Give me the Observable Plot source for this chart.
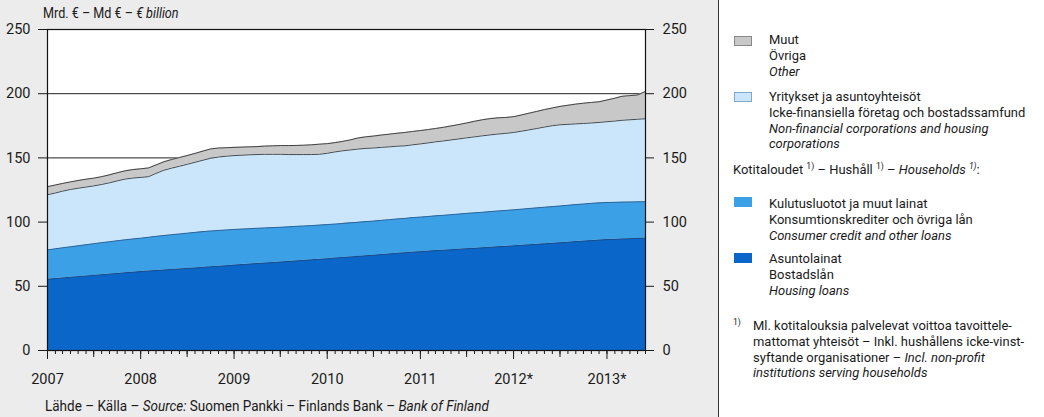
<!DOCTYPE html>
<html><head><meta charset="utf-8">
<script src="https://cdn.jsdelivr.net/npm/d3@7"></script>
<script src="https://cdn.jsdelivr.net/npm/@observablehq/plot@0.6"></script>
<style>
html,body{margin:0;padding:0;}
body{width:1044px;height:417px;overflow:hidden;background:#ececec;font-family:Roboto,"Liberation Sans",sans-serif;color:#1a1a1a;position:relative;}
#chart{position:absolute;left:0;top:0;}
#unit{position:absolute;left:43px;top:5px;font-size:14px;white-space:nowrap;transform:scaleX(0.9);transform-origin:0 0;}
#source{position:absolute;left:45px;top:397px;font-size:15px;white-space:nowrap;transform:scaleX(0.9);transform-origin:0 0;}
#legend{position:absolute;left:718px;top:0;width:326px;height:417px;background:#fff;border-left:1.5px solid #333;}
.blk{position:absolute;left:50px;font-size:13.5px;line-height:15.8px;white-space:nowrap;transform:scaleX(0.96);transform-origin:0 0;}
.sw{position:absolute;left:15px;width:18px;height:10px;box-sizing:border-box;}
.hd{position:absolute;left:14px;font-size:13.5px;line-height:15.8px;white-space:nowrap;transform:scaleX(0.96);transform-origin:0 0;}
i{font-style:italic;}
sup{font-size:9px;vertical-align:5px;line-height:0;}
</style>
</head><body>
<div id="chart"></div>
<div id="unit">Mrd. € – Md € – <i>€ billion</i></div>
<div id="source">Lähde – Källa – <i>Source:</i> Suomen Pankki – Finlands Bank – <i>Bank of Finland</i></div>
<div id="legend">
  <div class="sw" style="top:36px;background:#c8c8c8;border:1px solid #888;"></div>
  <div class="blk" style="top:32px;">Muut<br>Övriga<br><i>Other</i></div>
  <div class="sw" style="top:92px;background:#cbe6fa;border:1px solid #7fa9c8;"></div>
  <div class="blk" style="top:89px;">Yritykset ja asuntoyhteisöt<br>Icke-finansiella företag och bostadssamfund<br><i>Non-financial corporations and housing<br>corporations</i></div>
  <div class="hd" style="top:162px;">Kotitaloudet <sup>1)</sup> – Hushåll <sup>1)</sup> – <i>Households <sup>1)</sup></i>:</div>
  <div class="sw" style="top:197px;background:#3ba0e6;"></div>
  <div class="blk" style="top:196px;">Kulutusluotot ja muut lainat<br>Konsumtionskrediter och övriga lån<br><i>Consumer credit and other loans</i></div>
  <div class="sw" style="top:253px;background:#0a66c8;"></div>
  <div class="blk" style="top:251px;">Asuntolainat<br>Bostadslån<br><i>Housing loans</i></div>
  <div class="hd" style="top:318px;"><sup>1)</sup></div>
  <div class="blk" style="top:318px;left:34px;">Ml. kotitalouksia palvelevat voittoa tavoittele-<br>mattomat yhteisöt – Inkl. hushållens icke-vinst-<br>syftande organisationer – <i>Incl. non-profit<br>institutions serving households</i></div>
</div>
<script>
// Monthly data, Jan 2007 – Jun 2013, € billion
const seriesNames = ["Asuntolainat", "Kulutusluotot", "Yritykset", "Muut"];
const housing = [
  55.5, 56.0, 56.5, 57.0, 57.5, 58.0, 58.5, 59.0, 59.5, 60.0, 60.5, 61.0,
  61.5, 61.9, 62.3, 62.7, 63.1, 63.5, 63.9, 64.3, 64.8, 65.2, 65.6, 66.0,
  66.5, 66.9, 67.3, 67.7, 68.1, 68.5, 68.9, 69.3, 69.8, 70.2, 70.6, 71.0,
  71.5, 72.0, 72.4, 72.9, 73.3, 73.8, 74.2, 74.7, 75.2, 75.7, 76.1, 76.6,
  77.0, 77.4, 77.8, 78.1, 78.5, 78.9, 79.3, 79.6, 80.0, 80.4, 80.8, 81.1,
  81.5, 81.9, 82.3, 82.7, 83.1, 83.5, 83.9, 84.3, 84.8, 85.2, 85.6, 86.0,
  86.4, 86.6, 86.9, 87.1, 87.3, 87.5
];
const consumer = [
  22.9, 23.2, 23.5, 23.8, 24.1, 24.4, 24.7, 25.0, 25.2, 25.5, 25.7, 25.9,
  26.0, 26.3, 26.6, 26.9, 27.1, 27.3, 27.5, 27.7, 27.8, 27.9, 27.9, 27.9,
  27.8, 27.7, 27.6, 27.5, 27.4, 27.2, 27.1, 27.0, 26.9, 26.8, 26.7, 26.7,
  26.6, 26.5, 26.5, 26.5, 26.5, 26.6, 26.6, 26.7, 26.7, 26.8, 26.8, 26.9,
  26.9, 27.0, 27.1, 27.2, 27.3, 27.4, 27.5, 27.6, 27.7, 27.8, 27.9, 28.0,
  28.1, 28.2, 28.3, 28.4, 28.5, 28.6, 28.7, 28.8, 28.9, 28.9, 29.0, 29.0,
  28.9, 28.8, 28.7, 28.6, 28.5, 28.4
];
const corporations = [
  42.9, 43.5, 44.1, 44.6, 44.8, 44.9, 45.0, 45.3, 45.9, 46.6, 47.3, 47.4,
  47.3, 47.2, 49.0, 50.8, 51.8, 52.7, 53.6, 54.6, 55.6, 56.6, 57.2, 57.4,
  57.5, 57.5, 57.5, 57.4, 57.3, 57.1, 56.8, 56.3, 55.9, 55.6, 55.3, 55.1,
  55.5, 56.2, 56.6, 56.8, 57.1, 57.0, 56.9, 56.8, 56.7, 56.6, 56.5, 56.7,
  57.0, 57.3, 57.6, 57.9, 58.2, 58.5, 58.8, 59.2, 59.5, 59.7, 59.9, 60.0,
  60.2, 60.7, 61.2, 61.8, 62.4, 63.0, 63.2, 63.0, 62.8, 62.7, 62.6, 62.6,
  62.9, 63.3, 63.7, 64.0, 64.3, 64.6
];
const other = [
  6.3, 6.2, 6.0, 5.9, 6.0, 6.1, 6.0, 6.1, 6.2, 6.3, 6.4, 6.6,
  6.7, 6.8, 6.6, 6.6, 6.7, 6.8, 6.8, 6.9, 7.1, 7.3, 7.0, 6.6,
  6.4, 6.3, 6.2, 6.2, 6.4, 6.6, 6.8, 7.0, 7.1, 7.3, 7.6, 7.9,
  7.5, 7.2, 7.3, 7.8, 8.6, 9.0, 9.3, 9.6, 9.9, 10.1, 10.4, 10.4,
  10.4, 10.4, 10.4, 10.6, 10.9, 11.2, 11.6, 12.1, 12.5, 12.7, 12.6, 12.4,
  12.3, 12.6, 13.0, 13.3, 13.6, 13.8, 14.3, 14.9, 15.4, 15.8, 16.0, 16.1,
  16.9, 17.8, 18.7, 18.8, 18.9, 21.3
];
const yearLabels = ["2007", "2008", "2009", "2010", "2011", "2012*", "2013*"];
const yTicks = [0, 50, 100, 150, 200, 250];
const gridValues = [50, 100, 150, 200];

const fills = ["#0a66c8", "#3ba0e6", "#cbe6fa", "#c8c8c8"];
const strokes = ["#1b4a80", "#2c5d8e", "#3a3a3a", "#333333"];

const x0 = new Date(Date.UTC(2007, 0, 1));
const x1 = new Date(Date.UTC(2013, 5, 1));
const values = [housing, consumer, corporations, other];
const rows = [];
values.forEach((arr, k) => arr.forEach((v, i) => rows.push({
  date: new Date(Date.UTC(2007, i, 1)), value: v, series: seriesNames[k], fill: fills[k], line: strokes[k]
})));

const months = d3.utcMonth.range(x0, new Date(Date.UTC(2013, 5, 2)));
const years = yearLabels.map((_, i) => new Date(Date.UTC(2007 + i, 0, 1)));
const halfYears = yearLabels.slice(0, 6).map((_, i) => new Date(Date.UTC(2007 + i, 6, 1)));

const plot = Plot.plot({
  width: 718, height: 392,
  marginLeft: 47, marginRight: 73, marginTop: 29, marginBottom: 42,
  style: {fontFamily: 'Roboto,"Liberation Sans",sans-serif', fontSize: "14.5px", background: "transparent", color: "#1a1a1a", overflow: "visible"},
  x: {type: "utc", domain: [x0, x1]},
  y: {domain: [0, 250]},
  color: {type: "identity"},
  marks: [
    Plot.frame({fill: "white", stroke: null}),
    Plot.ruleY(gridValues, {stroke: "#222", strokeWidth: 1}),
    Plot.areaY(rows, Plot.stackY({x: "date", y: "value", z: "series", fill: "fill", order: seriesNames})),
    Plot.lineY(rows, Plot.stackY2({x: "date", y: "value", z: "series", stroke: "line", strokeWidth: 0.9, order: seriesNames})),
    Plot.frame({stroke: "#111", strokeWidth: 1.2}),
    Plot.axisY({anchor: "left", ticks: yTicks, tickSize: 9, tickPadding: 8, label: null}),
    Plot.axisY({anchor: "right", ticks: yTicks, tickSize: 8, tickPadding: 9, label: null}),
    Plot.axisX({ticks: months, tickSize: 4, tickFormat: () => "", label: null}),
    Plot.axisX({ticks: halfYears, tickSize: 7, tickFormat: () => "", label: null}),
    Plot.axisX({ticks: years, tickSize: 9, tickPadding: 14, tickFormat: d => yearLabels[d.getUTCFullYear() - 2007], label: null})
  ]
});
document.getElementById("chart").appendChild(plot);
</script>
</body></html>
